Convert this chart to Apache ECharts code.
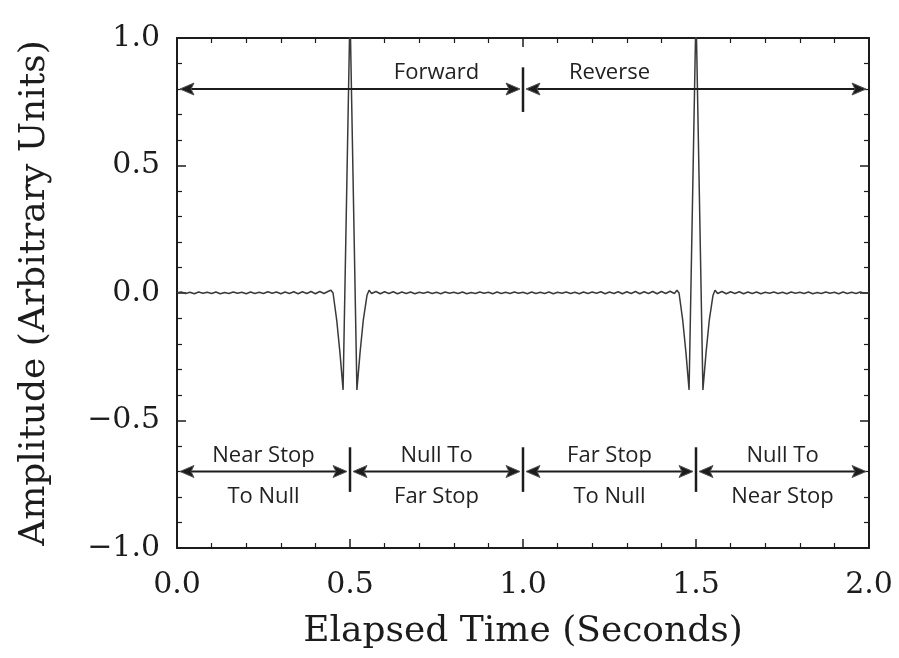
<!DOCTYPE html>
<html>
<head>
<meta charset="utf-8">
<script src="https://cdn.jsdelivr.net/npm/echarts@6/dist/echarts.min.js"></script>
<style>
  html, body { margin: 0; padding: 0; background: #ffffff; }
  #chart { width: 899px; height: 658px; }
</style>
</head>
<body>
<div id="chart"></div>
<script>
// ---------------- DATA ----------------
// Elapsed time (s) of each sample
const timeS = [
  0, 0.0125, 0.025, 0.0375, 0.05, 0.0625, 0.075, 0.0875, 0.1, 0.1125,
  0.125, 0.1375, 0.15, 0.1625, 0.175, 0.1875, 0.2, 0.2125, 0.225, 0.2375,
  0.25, 0.2625, 0.275, 0.2875, 0.3, 0.3125, 0.325, 0.3375, 0.35, 0.3625,
  0.375, 0.3875, 0.4, 0.4125, 0.425, 0.4375, 0.445,
  0.451, 0.4615, 0.471, 0.48, 0.5, 0.52, 0.529, 0.5385, 0.549, 0.555,
  0.5625, 0.575, 0.5875, 0.6, 0.6125, 0.625, 0.6375, 0.65, 0.6625, 0.675,
  0.6875, 0.7, 0.7125, 0.725, 0.7375, 0.75, 0.7625, 0.775, 0.7875, 0.8,
  0.8125, 0.825, 0.8375, 0.85, 0.8625, 0.875, 0.8875, 0.9, 0.9125, 0.925,
  0.9375, 0.95, 0.9625, 0.975, 0.9875, 1.0, 1.0125, 1.025, 1.0375, 1.05,
  1.0625, 1.075, 1.0875, 1.1, 1.1125, 1.125, 1.1375, 1.15, 1.1625, 1.175,
  1.1875, 1.2, 1.2125, 1.225, 1.2375, 1.25, 1.2625, 1.275, 1.2875, 1.3,
  1.3125, 1.325, 1.3375, 1.35, 1.3625, 1.375, 1.3875, 1.4, 1.4125, 1.425,
  1.4375, 1.445,
  1.451, 1.4615, 1.471, 1.48, 1.5, 1.52, 1.529, 1.5385, 1.549, 1.555,
  1.5625, 1.575, 1.5875, 1.6, 1.6125, 1.625, 1.6375, 1.65, 1.6625, 1.675,
  1.6875, 1.7, 1.7125, 1.725, 1.7375, 1.75, 1.7625, 1.775, 1.7875, 1.8,
  1.8125, 1.825, 1.8375, 1.85, 1.8625, 1.875, 1.8875, 1.9, 1.9125, 1.925,
  1.9375, 1.95, 1.9625, 1.975, 1.9875, 2.0
];
// Amplitude (arbitrary units) at each sample
const amplitude = [
  0.001, 0.004, -0.002, 0.003, -0.003, 0.004, -0.001, 0.003, -0.002, 0.004,
  -0.003, 0.002, -0.002, 0.004, -0.001, 0.003, -0.003, 0.004, -0.002, 0.003,
  -0.002, 0.005, -0.001, 0.004, -0.003, 0.004, -0.002, 0.005, -0.003, 0.005,
  -0.002, 0.006, -0.003, 0.006, -0.002, 0.007, 0.011,
  0.0, -0.105, -0.235, -0.38, 1.11, -0.38, -0.235, -0.105, -0.01, 0.011,
  -0.002, 0.006, -0.003, 0.005, -0.002, 0.005, -0.003, 0.004, -0.002, 0.004,
  -0.003, 0.003, -0.001, 0.004, -0.002, 0.003, -0.003, 0.004, -0.001, 0.003,
  -0.002, 0.004, -0.003, 0.002, -0.002, 0.004, -0.001, 0.003, -0.003, 0.004,
  -0.002, 0.003, -0.002, 0.004, -0.001, 0.003, -0.003, 0.004, -0.002, 0.003,
  -0.002, 0.004, -0.003, 0.003, -0.001, 0.004, -0.002, 0.003, -0.003, 0.004,
  -0.002, 0.004, -0.001, 0.005, -0.003, 0.004, -0.002, 0.005, -0.003, 0.005,
  -0.002, 0.006, -0.003, 0.005, -0.002, 0.006, -0.003, 0.006, -0.002, 0.007,
  -0.002, 0.011,
  0.0, -0.105, -0.235, -0.38, 1.11, -0.38, -0.235, -0.105, -0.01, 0.011,
  -0.002, 0.006, -0.003, 0.005, -0.002, 0.005, -0.003, 0.004, -0.002, 0.004,
  -0.003, 0.003, -0.001, 0.004, -0.002, 0.003, -0.003, 0.004, -0.001, 0.003,
  -0.002, 0.004, -0.003, 0.002, -0.002, 0.004, -0.001, 0.003, -0.003, 0.004,
  -0.002, 0.003, -0.002, 0.004, -0.001, 0.002
];

// Tick labels
const xTickValues = [0, 0.5, 1, 1.5, 2];
const xTickLabels = ['0.0', '0.5', '1.0', '1.5', '2.0'];
const yTickValues = [-1, -0.5, 0, 0.5, 1];
const yTickLabels = ['\u22121.0', '\u22120.5', '0.0', '0.5', '1.0'];

// Annotation arrows: start time, end time, amplitude level
const arrowStart = [0, 1, 0, 0.5, 1, 1.5];
const arrowEnd   = [1, 2, 0.5, 1, 1.5, 2];
const arrowLevel = [0.8, 0.8, -0.7, -0.7, -0.7, -0.7];

// Divider bars: time, lower level, upper level
const dividerTime = [1.0, 0.5, 1.0, 1.5];
const dividerLow  = [0.71, -0.78, -0.78, -0.78];
const dividerHigh = [0.885, -0.605, -0.605, -0.605];

// Annotation texts with their anchor (time, amplitude)
const noteText = ['Forward', 'Reverse',
  'Near Stop', 'To Null', 'Null To', 'Far Stop',
  'Far Stop', 'To Null', 'Null To', 'Near Stop'];
const noteTime = [0.75, 1.25, 0.25, 0.25, 0.75, 0.75, 1.25, 1.25, 1.75, 1.75];
const noteLevel = [0.862, 0.862, -0.637, -0.8, -0.637, -0.8, -0.637, -0.8, -0.637, -0.8];

// ---------------- CHART ----------------
const ink = '#1c1c1c';
const serif = '"DejaVu Serif", "Liberation Serif", serif';
const sans = '"Open Sans", "Noto Sans", sans-serif';

const signal = timeS.map((t, i) => [t, amplitude[i]]);
const arrows = arrowStart.map((s, i) => [s, arrowEnd[i], arrowLevel[i]]);
const dividers = dividerTime.map((t, i) => [t, dividerLow[i], dividerHigh[i]]);
const notes = noteTime.map((t, i) => [t, noteLevel[i]]);

function xLabel(v) {
  const i = xTickValues.findIndex(a => Math.abs(a - v) < 1e-9);
  return i >= 0 ? xTickLabels[i] : '';
}
function yLabel(v) {
  const i = yTickValues.findIndex(a => Math.abs(a - v) < 1e-9);
  return i >= 0 ? yTickLabels[i] : '';
}

const frameLine = { show: true, onZero: false, lineStyle: { color: ink, width: 2 } };
const tick = { show: true, inside: true, length: 9, lineStyle: { color: ink, width: 1.5 } };
const minor = { show: true, splitNumber: 5, length: 5, lineStyle: { color: ink, width: 1.2 } };

const chart = echarts.init(document.getElementById('chart'), null, { renderer: 'canvas' });

chart.setOption({
  animation: false,
  backgroundColor: '#ffffff',
  grid: { left: 177, right: 30, top: 38, bottom: 110, containLabel: false },
  xAxis: [
    {
      type: 'value', min: 0, max: 2, interval: 0.5, position: 'bottom',
      axisLine: frameLine, axisTick: tick, minorTick: minor,
      splitLine: { show: false }, minorSplitLine: { show: false },
      axisLabel: { formatter: xLabel, fontFamily: serif, fontSize: 30, color: ink, margin: 22 },
      name: 'Elapsed Time (Seconds)', nameLocation: 'middle', nameGap: 66,
      nameTextStyle: { fontFamily: serif, fontSize: 36, color: ink }
    },
    {
      type: 'value', min: 0, max: 2, interval: 0.5, position: 'top',
      axisLine: frameLine, axisTick: tick, minorTick: minor,
      splitLine: { show: false }, axisLabel: { show: false }
    }
  ],
  yAxis: [
    {
      type: 'value', min: -1, max: 1, interval: 0.5, position: 'left',
      axisLine: frameLine, axisTick: tick, minorTick: minor,
      splitLine: { show: false }, minorSplitLine: { show: false },
      axisLabel: { formatter: yLabel, fontFamily: serif, fontSize: 30, color: ink, margin: 17 },
      name: 'Amplitude (Arbitrary Units)', nameLocation: 'middle', nameGap: 124,
      nameTextStyle: { fontFamily: serif, fontSize: 36, color: ink }
    },
    {
      type: 'value', min: -1, max: 1, interval: 0.5, position: 'right',
      axisLine: frameLine, axisTick: tick, minorTick: minor,
      splitLine: { show: false }, axisLabel: { show: false }
    }
  ],
  series: [
    {
      name: 'Signal', type: 'line', data: signal, showSymbol: false,
      clip: true, smooth: false,
      lineStyle: { color: '#3a3a3a', width: 1.5 },
      z: 3
    },
    {
      name: 'Arrows', type: 'custom', data: arrows, clip: false, z: 4,
      renderItem: function (params, api) {
        const a = api.coord([api.value(0), api.value(2)]);
        const b = api.coord([api.value(1), api.value(2)]);
        const g = 3, L = 14, W = 6;
        const ax = a[0] + g, bx = b[0] - g, y = a[1];
        return {
          type: 'group',
          children: [
            { type: 'line', shape: { x1: ax + 4, y1: y, x2: bx - 4, y2: y },
              style: { stroke: ink, lineWidth: 2 } },
            { type: 'polygon', shape: { points: [[ax, y], [ax + L, y - W], [ax + L - 3, y], [ax + L, y + W]] },
              style: { fill: ink, stroke: '#555', lineWidth: 1 } },
            { type: 'polygon', shape: { points: [[bx, y], [bx - L, y - W], [bx - L + 3, y], [bx - L, y + W]] },
              style: { fill: ink, stroke: '#555', lineWidth: 1 } }
          ]
        };
      }
    },
    {
      name: 'Dividers', type: 'custom', data: dividers, clip: false, z: 4,
      renderItem: function (params, api) {
        const p = api.coord([api.value(0), api.value(1)]);
        const q = api.coord([api.value(0), api.value(2)]);
        return { type: 'line', shape: { x1: p[0], y1: p[1], x2: q[0], y2: q[1] },
          style: { stroke: ink, lineWidth: 2.5 } };
      }
    },
    {
      name: 'Notes', type: 'custom', data: notes, clip: false, z: 5,
      renderItem: function (params, api) {
        const p = api.coord([api.value(0), api.value(1)]);
        return { type: 'text', x: p[0], y: p[1],
          style: { text: noteText[params.dataIndex], fill: '#222', fontFamily: sans,
            fontSize: 22, align: 'center', verticalAlign: 'middle' } };
      }
    }
  ]
});
</script>
</body>
</html>
